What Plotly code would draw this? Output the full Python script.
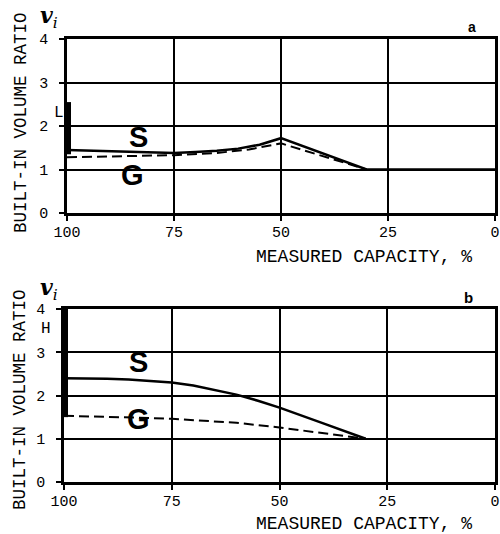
import plotly.graph_objects as go

# ---- data ----
tick_x = [100, 75, 50, 25, 0]
tick_y = [0, 1, 2, 3, 4]

# panel a
a_s_x = [100, 90, 80, 75, 70, 65, 60, 55, 50, 30, 0]
a_s_y = [1.45, 1.42, 1.39, 1.38, 1.40, 1.43, 1.48, 1.57, 1.72, 1.0, 1.0]
a_g_x = [100, 90, 80, 75, 65, 57.5, 50, 30]
a_g_y = [1.28, 1.30, 1.32, 1.33, 1.38, 1.46, 1.60, 1.0]
a_bar_x = [100, 100]
a_bar_y = [1.35, 2.55]

# panel b
b_s_x = [100, 95, 90, 85, 80, 75, 70, 65, 60, 55, 50, 40, 30]
b_s_y = [2.40, 2.40, 2.39, 2.37, 2.34, 2.30, 2.23, 2.13, 2.02, 1.88, 1.72, 1.36, 1.0]
b_g_x = [100, 90, 80, 75, 70, 60, 50, 40, 35, 30]
b_g_y = [1.53, 1.51, 1.48, 1.46, 1.43, 1.37, 1.26, 1.13, 1.06, 1.0]
b_bar_x = [100, 100]
b_bar_y = [1.5, 4.05]

W, H = 500, 534
def px(x): return x / W
def py(y): return 1 - y / H

MONO = "Liberation Mono"
fig = go.Figure()

def add_panel(xa, ya, sx, sy, gx, gy, bx, by):
    fig.add_trace(go.Scatter(x=bx, y=by, mode="lines", xaxis=xa, yaxis=ya,
                             line=dict(color="black", width=8), showlegend=False))
    fig.add_trace(go.Scatter(x=gx, y=gy, mode="lines", xaxis=xa, yaxis=ya,
                             line=dict(color="black", width=2, dash="10px,5px"), showlegend=False))
    fig.add_trace(go.Scatter(x=sx, y=sy, mode="lines", xaxis=xa, yaxis=ya,
                             line=dict(color="black", width=2.5), showlegend=False))

add_panel("x", "y", a_s_x, a_s_y, a_g_x, a_g_y, a_bar_x, a_bar_y)
add_panel("x2", "y2", b_s_x, b_s_y, b_g_x, b_g_y, b_bar_x, b_bar_y)

def xaxis(domain, anchor):
    return dict(domain=domain, anchor=anchor, range=[100, 0], tickvals=tick_x,
                ticktext=[str(v) for v in tick_x], showgrid=True, gridcolor="black",
                gridwidth=1.6, zeroline=False, showline=True, mirror=True,
                linecolor="black", linewidth=2.5, ticks="outside", ticklen=5,
                tickwidth=2, tickcolor="black",
                tickfont=dict(family=MONO, size=15, color="black"), ticklabelstandoff=-2,
                ticklabeloverflow="allow", automargin=False)

def yaxis(domain, anchor):
    return dict(domain=domain, anchor=anchor, range=[0, 4], tickvals=tick_y,
                showgrid=True, gridcolor="black", gridwidth=1.6, zeroline=False,
                showline=True, mirror=True, linecolor="black", linewidth=2.5,
                ticks="outside", ticklen=5, tickwidth=2, tickcolor="black",
                tickfont=dict(family=MONO, size=15, color="black"), ticklabelstandoff=8,
                ticklabeloverflow="allow", automargin=False)

fig.update_layout(
    width=W, height=H, margin=dict(l=0, r=0, t=0, b=0, autoexpand=False),
    paper_bgcolor="white", plot_bgcolor="white", showlegend=False,
    xaxis=xaxis([px(67), px(495)], "y"),
    yaxis=yaxis([py(213), py(39)], "x"),
    xaxis2=xaxis([px(64), px(495)], "y2"),
    yaxis2=yaxis([py(482), py(309)], "x2"),
)

def ann(text, x, y, size, family=MONO, angle=0, **kw):
    fig.add_annotation(text=text, x=px(x), y=py(y), xref="paper", yref="paper",
                       showarrow=False, textangle=angle, xanchor="center", yanchor="middle",
                       font=dict(family=family, size=size, color="black"), **kw)

# axis titles
ann("BUILT-IN VOLUME RATIO", 21, 123, 17.5, angle=-90)
ann("BUILT-IN VOLUME RATIO", 20, 400, 17.5, angle=-90)
ann("MEASURED CAPACITY, %", 364, 257, 18)
ann("MEASURED CAPACITY, %", 364, 524, 18)

# v_i symbols
ann("<b><i>v</i></b><sub><i>i</i></sub>", 49, 17, 22, family="DejaVu Serif")
ann("<b><i>v</i></b><sub><i>i</i></sub>", 49, 289, 22, family="DejaVu Serif")

# panel letters
ann("<b>a</b>", 472, 27, 14, family="Liberation Sans")
ann("<b>b</b>", 468, 297, 15, family="Liberation Sans")

# curve labels
ann("<b>S</b>", 138, 137, 29, family="Liberation Sans")
ann("<b>G</b>", 132, 175, 29, family="Liberation Sans")
ann("<b>S</b>", 138, 362, 29, family="Liberation Sans")
ann("<b>G</b>", 138, 419, 29, family="Liberation Sans")

# range marks
ann("L", 59, 113, 16)
ann("H", 46, 329, 16)

fig.write_html("out.html")
